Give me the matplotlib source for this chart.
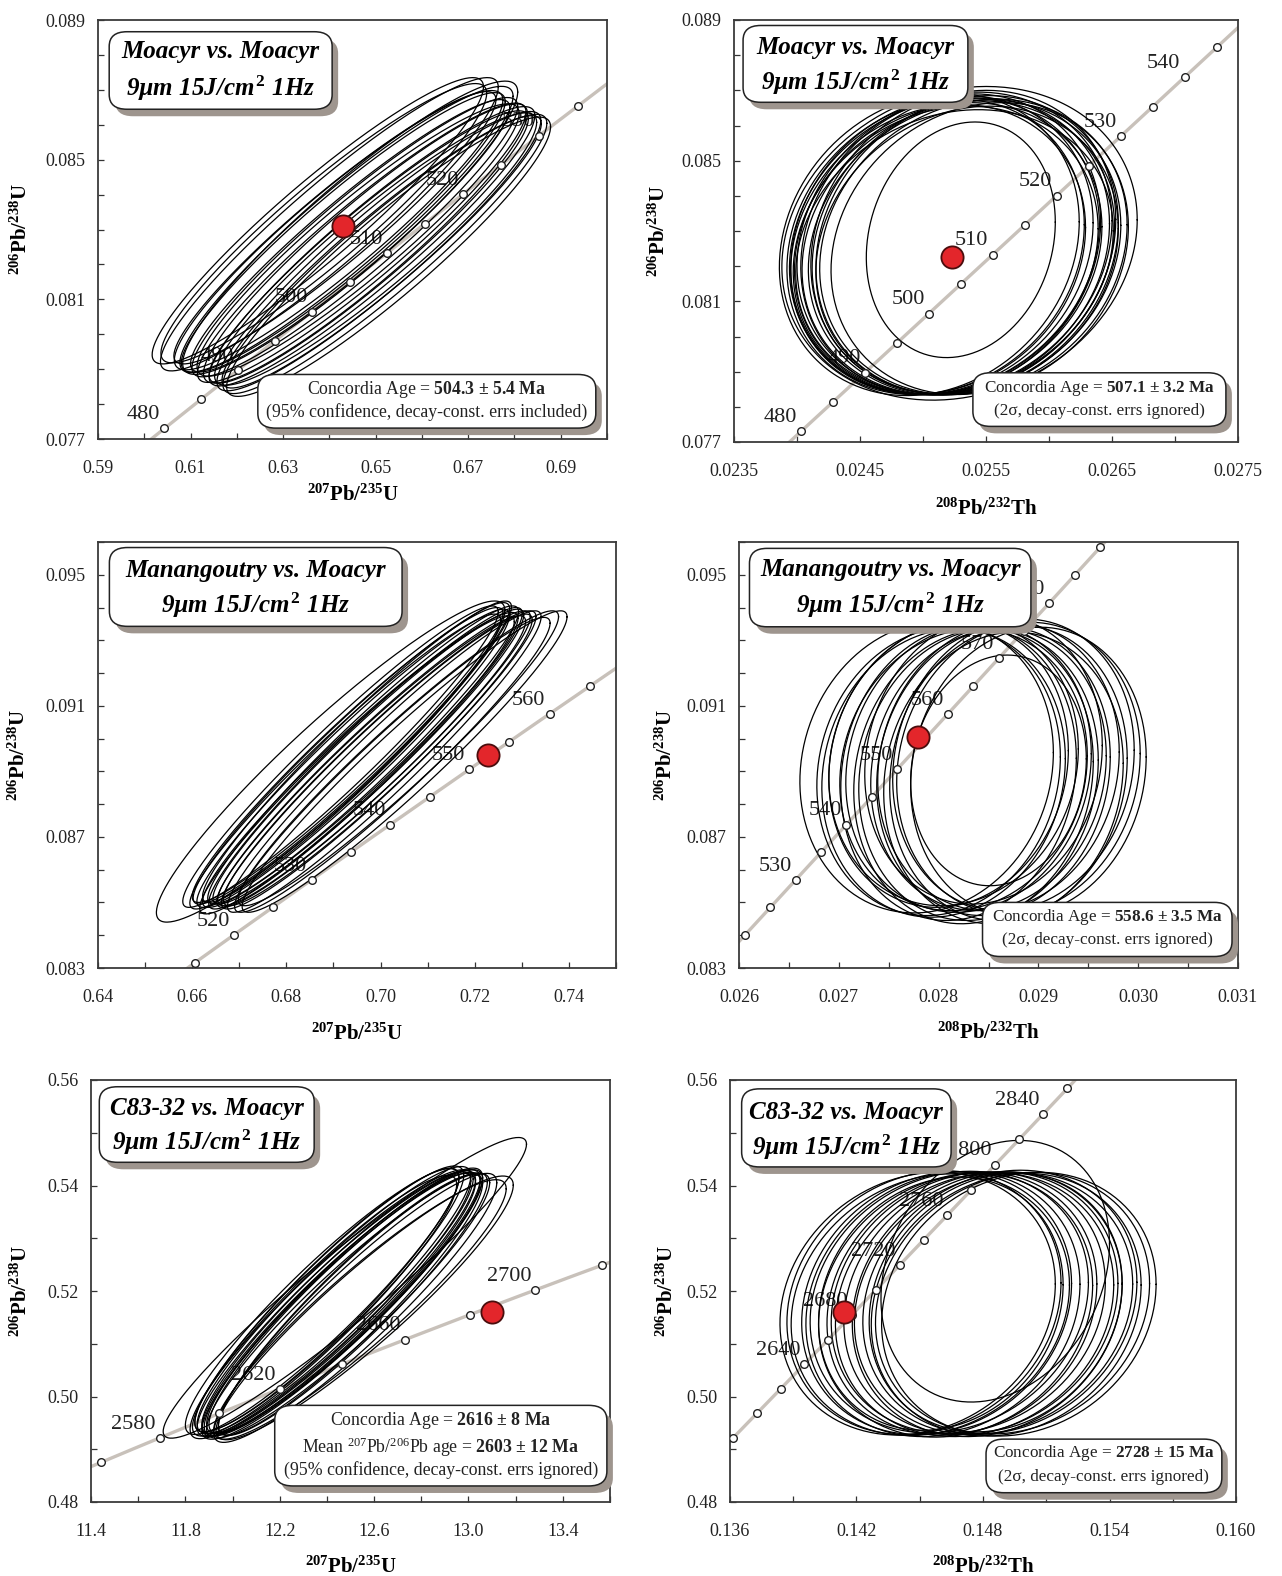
import numpy as np
import matplotlib
matplotlib.use("Agg")
import matplotlib.pyplot as plt
from matplotlib.patches import FancyBboxPatch
from matplotlib.transforms import offset_copy

plt.rcParams['font.family'] = ['Liberation Serif', 'DejaVu Serif']
plt.rcParams['mathtext.fontset'] = 'custom'
plt.rcParams['mathtext.rm'] = 'Liberation Serif'
plt.rcParams['mathtext.it'] = 'Liberation Serif:italic'
plt.rcParams['mathtext.bf'] = 'Liberation Serif:bold'

# decay constants (per Ma)
L238 = 1.55125e-4
L235 = 9.8485e-4
L232 = 4.9475e-5

# ---------------- data ----------------
# panel 1: Moacyr, 207Pb/235U vs 206Pb/238U
p1_cx = [0.6375, 0.6388, 0.6400, 0.6412, 0.6420, 0.6430, 0.6437, 0.6445, 0.6455, 0.6462,
         0.6470, 0.6478, 0.6485, 0.6492, 0.6500, 0.6507, 0.6513, 0.6520, 0.6528, 0.6445]
p1_cy = [0.08325, 0.08318, 0.08315, 0.08305, 0.08298, 0.08292, 0.08300, 0.08282, 0.08278, 0.08270,
         0.08262, 0.08260, 0.08250, 0.08252, 0.08244, 0.08238, 0.08236, 0.08230, 0.08222, 0.08305]
p1_sx = [0.0358, 0.0352, 0.0365, 0.0348, 0.0355, 0.0350, 0.0360, 0.0345, 0.0352, 0.0348,
         0.0355, 0.0350, 0.0345, 0.0352, 0.0348, 0.0350, 0.0345, 0.0350, 0.0350, 0.0362]
p1_sy = [0.0041, 0.0040, 0.0042, 0.0039, 0.0040, 0.0040, 0.0041, 0.0039, 0.0040, 0.0039,
         0.0040, 0.0040, 0.0039, 0.0040, 0.0039, 0.0040, 0.0039, 0.0040, 0.0040, 0.0042]
p1_rho = [0.935, 0.930, 0.935, 0.940, 0.930, 0.935, 0.930, 0.940, 0.935, 0.930,
          0.935, 0.930, 0.940, 0.935, 0.930, 0.935, 0.940, 0.935, 0.930, 0.925]
p1_ticks_age = list(range(480, 540, 5))
p1_label_age = [480, 490, 500, 510, 520, 530]
p1_mean = (0.6429, 0.0831)
p1_age_text = ["Concordia Age = $\\mathbf{504.3}$ $\\mathbf{±}$ $\\mathbf{5.4\\ Ma}$",
               "(95% confidence, decay-const. errs included)"]

# panel 2: Moacyr, 208Pb/232Th vs 206Pb/238U
p2_cx = [0.02510, 0.02515, 0.02520, 0.02525, 0.02530, 0.02518, 0.02522, 0.02528, 0.02535, 0.02512,
         0.02540, 0.02505, 0.02525, 0.02532, 0.02517, 0.02545, 0.02529, 0.02530, 0.02535, 0.02533]
p2_cy = [0.08255, 0.08260, 0.08250, 0.08265, 0.08258, 0.08245, 0.08262, 0.08252, 0.08260, 0.08248,
         0.08255, 0.08262, 0.08240, 0.08268, 0.08257, 0.08250, 0.08265, 0.08275, 0.08245, 0.08253]
p2_sx = [0.00118, 0.00120, 0.00122, 0.00125, 0.00118, 0.00121, 0.00119, 0.00124, 0.00120, 0.00117,
         0.00122, 0.00119, 0.00126, 0.00121, 0.00123, 0.00118, 0.00141, 0.00075, 0.00120, 0.00124]
p2_sy = [0.00420, 0.00425, 0.00415, 0.00430, 0.00420, 0.00410, 0.00428, 0.00418, 0.00425, 0.00412,
         0.00420, 0.00430, 0.00405, 0.00432, 0.00422, 0.00415, 0.00446, 0.00335, 0.00410, 0.00420]
p2_rho = [0.15] * 20
p2_ticks_age = list(range(480, 550, 5))
p2_label_age = [480, 490, 500, 510, 520, 530, 540]
p2_mean = (0.02523, 0.08225)
p2_age_text = ["Concordia Age = $\\mathbf{507.1}$ $\\mathbf{±}$ $\\mathbf{3.2\\ Ma}$",
               "(2σ, decay-const. errs ignored)"]

# panel 3: Manangoutry, 207Pb/235U vs 206Pb/238U
p3_cx = [0.6894, 0.6915, 0.6930, 0.6942, 0.6950, 0.6957, 0.6963, 0.6968, 0.6974, 0.6980,
         0.6986, 0.6938, 0.6925, 0.6950, 0.6992, 0.6998, 0.7008, 0.7025, 0.7051, 0.7038]
p3_cy = [0.08930, 0.08945, 0.08950, 0.08940, 0.08960, 0.08935, 0.08950, 0.08940, 0.08945, 0.08930,
         0.08940, 0.08955, 0.08930, 0.08920, 0.08930, 0.08940, 0.08930, 0.08920, 0.08930, 0.08940]
p3_sx = [0.0370, 0.0335, 0.0330, 0.0332, 0.0328, 0.0335, 0.0330, 0.0333, 0.0330, 0.0328,
         0.0332, 0.0336, 0.0330, 0.0334, 0.0330, 0.0332, 0.0333, 0.0335, 0.0345, 0.0340]
p3_sy = [0.00490, 0.00460, 0.00450, 0.00455, 0.00460, 0.00450, 0.00455, 0.00460, 0.00450, 0.00445,
         0.00450, 0.00460, 0.00450, 0.00455, 0.00450, 0.00450, 0.00460, 0.00450, 0.00460, 0.00450]
p3_rho = [0.94] + [0.96] * 19
p3_ticks_age = list(range(515, 570, 5))
p3_label_age = [520, 530, 540, 550, 560]
p3_mean = (0.72275, 0.0895)

# panel 4: Manangoutry, 208Pb/232Th vs 206Pb/238U
p4_cx = [0.02788, 0.02800, 0.02810, 0.02820, 0.02830, 0.02840, 0.02850, 0.02860, 0.02870, 0.02880,
         0.02890, 0.02815, 0.02835, 0.02855, 0.02875, 0.02825, 0.02845, 0.02865, 0.02860, 0.02805]
p4_cy = [0.08913, 0.08900, 0.08920, 0.08895, 0.08910, 0.08890, 0.08905, 0.08915, 0.08895, 0.08910,
         0.08900, 0.08925, 0.08885, 0.08900, 0.08920, 0.08905, 0.08935, 0.08880, 0.08903, 0.08895]
p4_sx = [0.00127, 0.00122, 0.00120, 0.00118, 0.00123, 0.00120, 0.00118, 0.00121, 0.00119, 0.00122,
         0.00118, 0.00125, 0.00120, 0.00117, 0.00121, 0.00124, 0.00119, 0.00120, 0.00088, 0.00122]
p4_sy = [0.00445, 0.00440, 0.00435, 0.00450, 0.00440, 0.00445, 0.00430, 0.00440, 0.00450, 0.00445,
         0.00440, 0.00435, 0.00450, 0.00440, 0.00445, 0.00430, 0.00440, 0.00445, 0.00352, 0.00440]
p4_rho = [0.10] * 20
p4_ticks_age = list(range(520, 595, 5))
p4_label_age = [530, 540, 550, 560, 570, 580]
p4_mean = (0.02779, 0.09006)
p4_age_text = ["Concordia Age = $\\mathbf{558.6}$ $\\mathbf{±}$ $\\mathbf{3.5\\ Ma}$",
               "(2σ, decay-const. errs ignored)"]

# panel 5: C83-32, 207Pb/235U vs 206Pb/238U
p5_cx = [12.476, 12.38, 12.40, 12.42, 12.44, 12.46, 12.48, 12.50, 12.52, 12.41,
         12.45, 12.47, 12.39, 12.49, 12.56, 12.43, 12.51, 12.54, 12.44, 12.47]
p5_cy = [0.5206, 0.5180, 0.5183, 0.5175, 0.5178, 0.5172, 0.5180, 0.5174, 0.5168, 0.5185,
         0.5174, 0.5179, 0.5172, 0.5172, 0.5168, 0.5183, 0.5175, 0.5165, 0.5176, 0.5180]
p5_sx = [0.77, 0.58, 0.56, 0.60, 0.57, 0.59, 0.58, 0.56, 0.60, 0.57,
         0.58, 0.59, 0.56, 0.60, 0.63, 0.58, 0.57, 0.62, 0.59, 0.58]
p5_sy = [0.0285, 0.0252, 0.0250, 0.0255, 0.0248, 0.0253, 0.0250, 0.0247, 0.0255, 0.0252,
         0.0249, 0.0254, 0.0247, 0.0251, 0.0250, 0.0253, 0.0249, 0.0246, 0.0252, 0.0250]
p5_rho = [0.955] + [0.93] * 19
p5_ticks_age = list(range(2560, 2740, 20))
p5_label_age = [2580, 2620, 2660, 2700]
p5_mean = (13.10, 0.5160)
p5_age_text = ["Concordia Age = $\\mathbf{2616}$ $\\mathbf{±}$ $\\mathbf{8\\ Ma}$",
               "Mean $^{207}$Pb/$^{206}$Pb age = $\\mathbf{2603}$ $\\mathbf{±}$ "
               "$\\mathbf{12\\ Ma}$",
               "(95% confidence, decay-const. errs ignored)"]

# panel 6: C83-32, 208Pb/232Th vs 206Pb/238U
p6_cx = [0.1449, 0.1452, 0.1455, 0.1458, 0.1461, 0.1464, 0.1467, 0.1470, 0.1473, 0.1476,
         0.1479, 0.1482, 0.1485, 0.1488, 0.1491, 0.1494, 0.1497, 0.1460, 0.1486, 0.14858]
p6_cy = [0.5176, 0.5178, 0.5174, 0.5177, 0.5175, 0.5179, 0.5173, 0.5176, 0.5178, 0.5174,
         0.5177, 0.5175, 0.5176, 0.5179, 0.5174, 0.5177, 0.5175, 0.5176, 0.5178, 0.52375]
p6_sx = [0.00653, 0.0065, 0.0066, 0.0064, 0.0065, 0.0066, 0.0065, 0.0064, 0.0065, 0.0066,
         0.0065, 0.0064, 0.0066, 0.0065, 0.0064, 0.0065, 0.00651, 0.0058, 0.0060, 0.00542]
p6_sy = [0.0249, 0.0250, 0.0248, 0.0249, 0.0251, 0.0248, 0.0250, 0.0249, 0.0248, 0.0250,
         0.0249, 0.0251, 0.0248, 0.0250, 0.0249, 0.0248, 0.0250, 0.0240, 0.0245, 0.0248]
p6_rho = [0.15] * 19 + [0.21]
p6_ticks_age = list(range(2580, 2880, 20))
p6_label_age = [2640, 2680, 2720, 2760, 2800, 2840]
p6_mean = (0.14142, 0.51594)
p6_age_text = ["Concordia Age = $\\mathbf{2728}$ $\\mathbf{±}$ $\\mathbf{15\\ Ma}$",
               "(2σ, decay-const. errs ignored)"]

title_moa = "Moacyr vs. Moacyr"
title_man = "Manangoutry vs. Moacyr"
title_c83 = "C83-32 vs. Moacyr"
cond_line = "9µm 15J/cm$^{\\,\\mathbf{2}}$ 1Hz"

ylab = "$^{\\mathbf{206}}\\mathbf{Pb/}^{\\mathbf{238}}\\mathbf{U}$"
xlab_u = "$^{\\mathbf{207}}\\mathbf{Pb/}^{\\mathbf{235}}\\mathbf{U}$"
xlab_th = "$^{\\mathbf{208}}\\mathbf{Pb/}^{\\mathbf{232}}\\mathbf{Th}$"


def concordia(ages, system):
    ages = np.asarray(ages, float)
    y = np.exp(L238 * ages) - 1
    lam = L235 if system == "U" else L232
    return np.exp(lam * ages) - 1, y


def shadow_box(ax, x0, y0, w, h):
    fig = ax.figure
    sh = offset_copy(ax.transAxes, fig=fig, x=6, y=-7, units='dots')
    style = "round,pad=0,rounding_size=0.035"
    ax.add_patch(FancyBboxPatch((x0, y0), w, h, boxstyle=style, fc='#9e958e', ec='none',
                                transform=sh, zorder=8, clip_on=False))
    ax.add_patch(FancyBboxPatch((x0, y0), w, h, boxstyle=style, fc='white', ec='#222222',
                                lw=1.1, transform=ax.transAxes, zorder=9, clip_on=False))


def draw_panel(ax, system, cx, cy, sx, sy, rho, tick_ages, label_ages, mean, title,
               age_text, lay):
    # concordia curve
    t_line = np.linspace(lay['span'][0], lay['span'][1], 300)
    xl, yl = concordia(t_line, system)
    ax.plot(xl, yl, color='#c8c1ba', lw=2.4, zorder=2, solid_capstyle='butt')
    xt, yt = concordia(tick_ages, system)
    ax.plot(xt, yt, 'o', ms=5.5, mfc='white', mec='#222222', mew=1.0, zorder=5)
    xa, ya = concordia(label_ages, system)
    for a, x, y in zip(label_ages, xa, ya):
        ax.annotate(str(a), (x, y), xytext=(-3, 3), textcoords='offset points',
                    ha='right', va='bottom', fontsize=16, color='#222222', zorder=1)

    # error ellipses
    th = np.linspace(0, 2 * np.pi, 240)
    for i in range(len(cx)):
        ex = cx[i] + sx[i] * np.cos(th)
        ey = cy[i] + sy[i] * (rho[i] * np.cos(th) + np.sqrt(1 - rho[i] ** 2) * np.sin(th))
        ax.plot(ex, ey, color='black', lw=0.9, zorder=3)

    ax.plot([mean[0]], [mean[1]], 'o', ms=16, mfc='#e3262b', mec='#4a0d0d', mew=1.3, zorder=6)

    # axes
    ax.set_xlim(*lay['xlim'])
    ax.set_ylim(*lay['ylim'])
    ax.set_xticks(lay['xt'])
    ax.set_xticks(lay['xm'], minor=True)
    ax.set_yticks(lay['yt'])
    ax.set_yticks(lay['ym'], minor=True)
    ax.set_xticklabels([lay['xf'] % v for v in lay['xt']])
    ax.set_yticklabels([lay['yf'] % v for v in lay['yt']])
    ax.tick_params(axis='both', which='both', direction='in', length=4.5, width=0.9,
                   colors='#333333', labelcolor='#222222', labelsize=13)
    ax.tick_params(axis='x', which='both', pad=15)
    ax.tick_params(axis='y', which='both', pad=9)
    ax.tick_params(which='both', top=False, right=False)
    for s in ax.spines.values():
        s.set_color('#3a3a3a')
        s.set_linewidth(1.3)
    ax.set_xlabel(lay['xlab'], fontsize=15)
    ax.set_ylabel(ylab, fontsize=15)
    ax.xaxis.set_label_coords(0.5, lay['xlc'])
    ax.yaxis.set_label_coords(lay['ylc'], 0.5)

    # title box
    bx = lay['tbox']
    shadow_box(ax, *bx)
    ax.text(lay['tx'], lay['ty'][0], title, transform=ax.transAxes, ha='center', va='center',
            fontsize=18, fontweight='bold', style='italic', zorder=10)
    ax.text(lay['tx'], lay['ty'][1], cond_line, transform=ax.transAxes, ha='center',
            va='center', fontsize=18, fontweight='bold', style='italic', zorder=10)

    # age box
    if age_text:
        shadow_box(ax, *lay['abox'])
        for line, yy in zip(age_text, lay['ay']):
            ax.text(lay['ax'], yy, line, transform=ax.transAxes, ha='center', va='center',
                    fontsize=lay['afs'], color='#222222', zorder=10)


W, H = 1282, 1576
fig = plt.figure(figsize=(W / 100, H / 100), dpi=100)


def axes_px(x0, x1, y0, y1):
    return fig.add_axes([x0 / W, 1 - y1 / H, (x1 - x0) / W, (y1 - y0) / H])


def ticks(a, b, step):
    n = int(round((b - a) / step))
    return np.round(a + step * np.arange(n + 1), 6)


lay1 = dict(span=(470, 545), xlim=(0.59, 0.70), ylim=(0.077, 0.089),
            xt=ticks(0.59, 0.69, 0.02), xm=ticks(0.59, 0.70, 0.01),
            yt=ticks(0.077, 0.089, 0.004), ym=ticks(0.077, 0.089, 0.001),
            xf='%.2f', yf='%.3f', xlab=xlab_u, xlc=-0.11, ylc=-0.13,
            tbox=(0.022, 0.787, 0.438, 0.185), tx=0.241, ty=(0.926, 0.838),
            abox=(0.314, 0.026, 0.664, 0.128), ax=0.646, ay=(0.118, 0.064), afs=12.8)
lay2 = dict(span=(470, 560), xlim=(0.0235, 0.0275), ylim=(0.077, 0.089),
            xt=ticks(0.0235, 0.0275, 0.001), xm=ticks(0.0235, 0.0275, 0.0005),
            yt=ticks(0.077, 0.089, 0.004), ym=ticks(0.077, 0.089, 0.001),
            xf='%.4f', yf='%.3f', xlab=xlab_th, xlc=-0.135, ylc=-0.127,
            tbox=(0.018, 0.805, 0.446, 0.182), tx=0.241, ty=(0.936, 0.852),
            abox=(0.474, 0.037, 0.502, 0.127), ax=0.725, ay=(0.128, 0.074), afs=12.3)
lay3 = dict(span=(505, 580), xlim=(0.64, 0.75), ylim=(0.083, 0.096),
            xt=ticks(0.64, 0.74, 0.02), xm=ticks(0.64, 0.75, 0.01),
            yt=ticks(0.083, 0.095, 0.004), ym=ticks(0.083, 0.096, 0.001),
            xf='%.2f', yf='%.3f', xlab=xlab_u, xlc=-0.13, ylc=-0.131,
            tbox=(0.022, 0.802, 0.565, 0.185), tx=0.304, ty=(0.934, 0.852))
lay4 = dict(span=(510, 600), xlim=(0.026, 0.031), ylim=(0.083, 0.096),
            xt=ticks(0.026, 0.031, 0.001), xm=ticks(0.026, 0.031, 0.0005),
            yt=ticks(0.083, 0.095, 0.004), ym=ticks(0.083, 0.096, 0.001),
            xf='%.3f', yf='%.3f', xlab=xlab_th, xlc=-0.128, ylc=-0.124,
            tbox=(0.021, 0.801, 0.564, 0.184), tx=0.303, ty=(0.936, 0.851),
            abox=(0.488, 0.027, 0.500, 0.127), ax=0.738, ay=(0.119, 0.065), afs=12.3)
lay5 = dict(span=(2540, 2760), xlim=(11.4, 13.6), ylim=(0.48, 0.56),
            xt=ticks(11.4, 13.4, 0.4), xm=ticks(11.4, 13.6, 0.2),
            yt=ticks(0.48, 0.56, 0.02), ym=ticks(0.48, 0.56, 0.01),
            xf='%.1f', yf='%.2f', xlab=xlab_u, xlc=-0.13, ylc=-0.114,
            tbox=(0.016, 0.805, 0.414, 0.179), tx=0.223, ty=(0.932, 0.853),
            abox=(0.354, 0.038, 0.640, 0.191), ax=0.674, ay=(0.193, 0.130, 0.076), afs=12.8)
lay6 = dict(span=(2560, 2880), xlim=(0.136, 0.160), ylim=(0.48, 0.56),
            xt=ticks(0.136, 0.160, 0.006), xm=ticks(0.136, 0.160, 0.003),
            yt=ticks(0.48, 0.56, 0.02), ym=ticks(0.48, 0.56, 0.01),
            xf='%.3f', yf='%.2f', xlab=xlab_th, xlc=-0.13, ylc=-0.103,
            tbox=(0.023, 0.794, 0.414, 0.185), tx=0.230, ty=(0.923, 0.840),
            abox=(0.506, 0.022, 0.466, 0.127), ax=0.739, ay=(0.117, 0.060), afs=12.3)

ax1 = axes_px(98, 607, 20, 439)
ax2 = axes_px(734, 1238, 20, 442)
ax3 = axes_px(98, 616, 542, 968)
ax4 = axes_px(739, 1238, 542, 968)
ax5 = axes_px(91, 610, 1080, 1502)
ax6 = axes_px(730, 1236, 1080, 1502)

draw_panel(ax1, "U", p1_cx, p1_cy, p1_sx, p1_sy, p1_rho, p1_ticks_age, p1_label_age,
           p1_mean, title_moa, p1_age_text, lay1)
draw_panel(ax2, "Th", p2_cx, p2_cy, p2_sx, p2_sy, p2_rho, p2_ticks_age, p2_label_age,
           p2_mean, title_moa, p2_age_text, lay2)
draw_panel(ax3, "U", p3_cx, p3_cy, p3_sx, p3_sy, p3_rho, p3_ticks_age, p3_label_age,
           p3_mean, title_man, None, lay3)
draw_panel(ax4, "Th", p4_cx, p4_cy, p4_sx, p4_sy, p4_rho, p4_ticks_age, p4_label_age,
           p4_mean, title_man, p4_age_text, lay4)
draw_panel(ax5, "U", p5_cx, p5_cy, p5_sx, p5_sy, p5_rho, p5_ticks_age, p5_label_age,
           p5_mean, title_c83, p5_age_text, lay5)
draw_panel(ax6, "Th", p6_cx, p6_cy, p6_sx, p6_sy, p6_rho, p6_ticks_age, p6_label_age,
           p6_mean, title_c83, p6_age_text, lay6)

fig.savefig("out.png", dpi=100, facecolor='white')
